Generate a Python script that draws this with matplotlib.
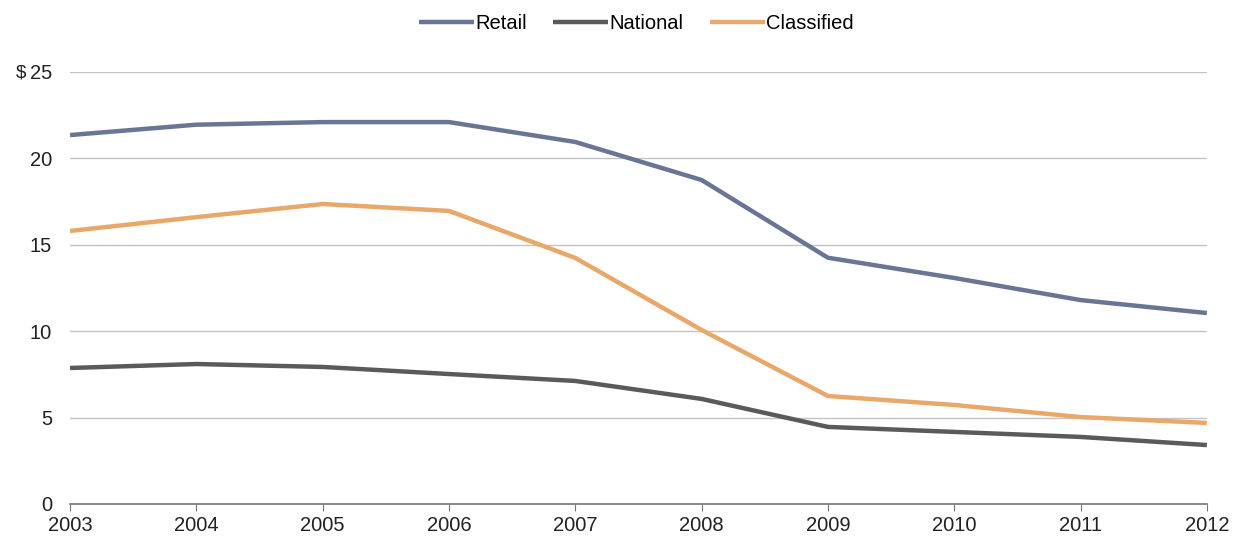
import matplotlib
matplotlib.use("Agg")
import matplotlib.pyplot as plt

plt.rcParams['font.family'] = ['Liberation Sans', 'DejaVu Sans']

years = [2003, 2004, 2005, 2006, 2007, 2008, 2009, 2010, 2011, 2012]
retail = [21.35, 21.95, 22.1, 22.1, 20.95, 18.75, 14.25, 13.08, 11.8, 11.05]
national = [7.87, 8.1, 7.93, 7.52, 7.12, 6.08, 4.46, 4.17, 3.88, 3.41]
classified = [15.8, 16.6, 17.36, 16.96, 14.24, 10.07, 6.25, 5.73, 5.03, 4.69]
series_names = ["Retail", "National", "Classified"]
y_ticks = [0, 5, 10, 15, 20, 25]

colors = ["#6a7595", "#5a5a5a", "#e9a86a"]
FS = 14.5

fig = plt.figure(figsize=(12.33, 5.4), dpi=100)
ax = fig.add_axes([0.0568, 0.0667, 0.922, 0.80])

for vals, name, c in zip([retail, national, classified], series_names, colors):
    ax.plot(years, vals, color=c, lw=3.2, label=name, solid_capstyle='butt')

ax.set_xlim(2003, 2012)
ax.set_ylim(0, 25)
ax.set_yticks(y_ticks)
ax.set_xticks(years)
ax.grid(axis='y', color='#c4c4c4', lw=1.0)
ax.set_axisbelow(True)
for s in ['top', 'right', 'left']:
    ax.spines[s].set_visible(False)
ax.spines['bottom'].set_color('#777777')
ax.spines['bottom'].set_linewidth(1.2)
ax.tick_params(axis='y', length=0, pad=13, labelsize=FS, labelcolor='#222222')
ax.tick_params(axis='x', length=5, color='#777777', labelsize=FS, labelcolor='#222222', pad=4)

fig.text(26 / 1233, 1 - 73 / 540, "$", ha='right', va='center', fontsize=13.5, color='#222222')

fig.legend(loc='center', bbox_to_anchor=(0.516, 0.957), ncol=3, frameon=False,
           fontsize=FS, handlelength=2.75, handletextpad=0.05, columnspacing=1.3)

fig.savefig("out.png", dpi=100, facecolor='white')
